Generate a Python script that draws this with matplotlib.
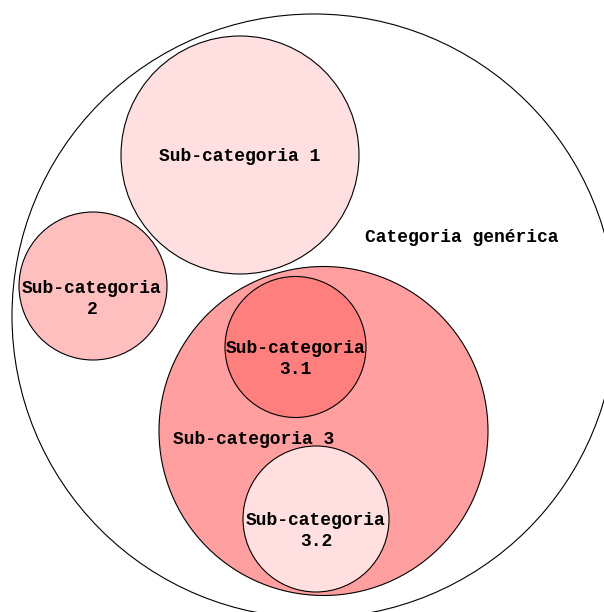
import matplotlib
matplotlib.use("Agg")
import matplotlib.pyplot as plt
from matplotlib.patches import Circle

# circles (pixel coords of the reference, y down)
names = ["Categoria genérica", "Sub-categoria 1", "Sub-categoria 2",
         "Sub-categoria 3", "Sub-categoria 3.1", "Sub-categoria 3.2"]
cx = [314, 240, 93, 323.5, 295.5, 316]
cy = [316, 155, 286, 431, 347, 519]
radius = [302, 119, 74, 164.5, 70.5, 73]
fills = ["#ffffff", "#ffdfdf", "#ffbfbf", "#ff9f9f", "#ff7f7f", "#ffdfdf"]

# labels: text lines and anchor (first line baseline)
label_lines = [["Categoria genérica"], ["Sub-categoria 1"], ["Sub-categoria", "2"],
               ["Sub-categoria 3"], ["Sub-categoria", "3.1"], ["Sub-categoria", "3.2"]]
label_x = [462, 240, 92, 254, 295.5, 316]
label_y = [242, 161, 293, 444, 353, 525]

W, H = 604, 612
fig = plt.figure(figsize=(W / 100, H / 100), dpi=100)
ax = fig.add_axes([0, 0, 1, 1])
ax.set_xlim(0, W)
ax.set_ylim(H, 0)
ax.set_aspect("equal")
ax.axis("off")

for i in range(len(names)):
    ax.add_patch(Circle((cx[i], cy[i]), radius[i], facecolor=fills[i],
                        edgecolor="black", linewidth=0.8, zorder=i + 1))

font = dict(family=["Liberation Mono", "DejaVu Sans Mono"], weight="bold", size=13)
for i, lines in enumerate(label_lines):
    for j, line in enumerate(lines):
        ax.text(label_x[i], label_y[i] + j * 21, line, ha="center", va="baseline",
                zorder=20, **font)

fig.savefig("out.png", dpi=100)
